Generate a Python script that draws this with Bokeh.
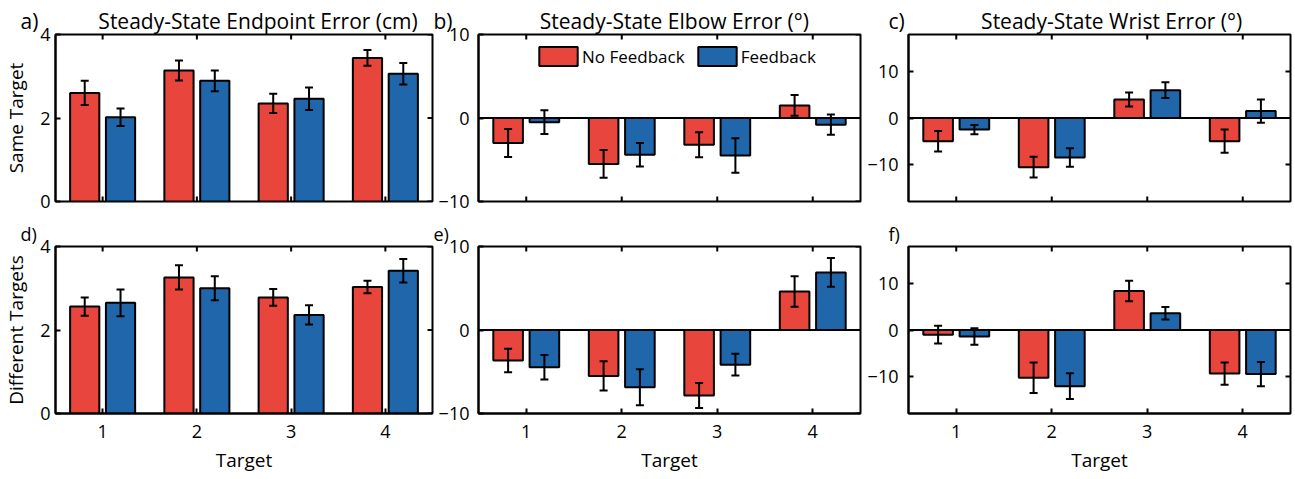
import math
from bokeh.plotting import figure
from bokeh.models import (Range1d, LinearAxis, FixedTicker, ColumnDataSource, Whisker,
                          TeeHead, Span, Title, Legend, LegendItem)
from bokeh.layouts import gridplot
from bokeh.embed import file_html
from bokeh.resources import INLINE

# ---------------- data ----------------
targets = [1, 2, 3, 4]
tick_labels = ["1", "2", "3", "4"]
series_names = ["No Feedback", "Feedback"]

same_endpoint_nofb = [2.60, 3.14, 2.35, 3.44]
same_endpoint_nofb_err = [0.29, 0.24, 0.23, 0.19]
same_endpoint_fb = [2.02, 2.89, 2.46, 3.06]
same_endpoint_fb_err = [0.21, 0.25, 0.27, 0.26]

same_elbow_nofb = [-3.0, -5.5, -3.2, 1.5]
same_elbow_nofb_err = [1.68, 1.66, 1.5, 1.24]
same_elbow_fb = [-0.5, -4.4, -4.5, -0.8]
same_elbow_fb_err = [1.42, 1.4, 2.06, 1.22]

same_wrist_nofb = [-5.0, -10.6, 4.0, -5.0]
same_wrist_nofb_err = [2.2, 2.25, 1.5, 2.5]
same_wrist_fb = [-2.5, -8.5, 6.0, 1.5]
same_wrist_fb_err = [1.0, 2.0, 1.7, 2.5]

diff_endpoint_nofb = [2.56, 3.26, 2.78, 3.03]
diff_endpoint_nofb_err = [0.22, 0.29, 0.20, 0.15]
diff_endpoint_fb = [2.65, 3.00, 2.36, 3.42]
diff_endpoint_fb_err = [0.32, 0.29, 0.23, 0.28]

diff_elbow_nofb = [-3.65, -5.5, -7.85, 4.6]
diff_elbow_nofb_err = [1.41, 1.76, 1.49, 1.83]
diff_elbow_fb = [-4.45, -6.85, -4.15, 6.9]
diff_elbow_fb_err = [1.47, 2.16, 1.31, 1.72]

diff_wrist_nofb = [-1.0, -10.3, 8.4, -9.4]
diff_wrist_nofb_err = [1.9, 3.3, 2.2, 2.4]
diff_wrist_fb = [-1.4, -12.1, 3.6, -9.5]
diff_wrist_fb_err = [1.8, 2.8, 1.36, 2.6]

titles = ["Steady-State Endpoint Error (cm)", "Steady-State Elbow Error (°)",
          "Steady-State Wrist Error (°)"]
letters = ["a)", "b)", "c)", "d)", "e)", "f)"]
row_labels = ["Same Target", "Different Targets"]
x_label = "Target"

# ---------------- style ----------------
FONT = "Open Sans"
RED = "#E8453C"
BLUE = "#1F66AA"
BAR_W = 0.31
OFFSET = 0.19
NBSP = "\u00a0"

COLS = [  # width, border left, border right, letter offset, tick standoff, title pad
    dict(w=434, bl=53, br=2, lx=-35, st=5, pad=11),
    dict(w=428, bl=44, br=2, lx=-45, st=9, pad=16),
    dict(w=432, bl=46, br=4, lx=-20, st=10, pad=14),
]
ROWS = [
    dict(h=218, bt=34, bb=17, fs="21px", so=0),
    dict(h=259, bt=28, bb=64, fs="18px", so=1),
]


def style_axis(ax, ticks, standoff):
    ax.ticker = FixedTicker(ticks=ticks)
    ax.major_tick_in = 5
    ax.major_tick_out = 0
    ax.major_tick_line_width = 2
    ax.major_tick_line_color = "black"
    ax.minor_tick_line_color = None
    ax.axis_line_width = 2
    ax.axis_line_color = "black"
    ax.major_label_text_font = FONT
    ax.major_label_text_color = "black"
    ax.major_label_text_font_size = "18px"
    ax.major_label_standoff = standoff
    ax.axis_label_text_font = FONT
    ax.axis_label_text_font_size = "19px"
    ax.axis_label_text_font_style = "normal"
    ax.axis_label_text_color = "black"
    return ax


def panel(col, row, nofb, nofb_err, fb, fb_err, yr, yticks, letter,
          title=None, ylabel=None, xlabels=False, legend=False, zero=False):
    c = COLS[col]
    r = ROWS[row]
    p = figure(width=c["w"], height=r["h"], x_range=Range1d(0.5, 4.5),
               y_range=Range1d(*yr), output_backend="svg", toolbar_location=None,
               x_axis_location=None, y_axis_location=None,
               min_border_left=c["bl"], min_border_right=c["br"],
               min_border_top=r["bt"], min_border_bottom=r["bb"])
    p.xgrid.grid_line_color = None
    p.ygrid.grid_line_color = None
    p.outline_line_color = "black"
    p.outline_line_width = 2
    p.background_fill_color = "white"
    p.border_fill_color = "white"

    left = style_axis(LinearAxis(), yticks, c["st"])
    if ylabel:
        left.axis_label = ylabel
        left.axis_label_standoff = 8
    p.add_layout(left, "left")
    if xlabels:
        bottom = style_axis(LinearAxis(), targets, 11)
        bottom.major_label_overrides = {t: l for t, l in zip(targets, tick_labels)}
        bottom.axis_label = x_label
        bottom.axis_label_standoff = 6
        p.add_layout(bottom, "below")

    # inward tick marks on the remaining box edges (clipped to the frame)
    x1 = 4.5
    y0, y1 = yr
    p.scatter(x=targets, y=[y1] * len(targets), marker="dash", angle=math.pi / 2,
              size=10, line_width=2, line_color="black")
    p.scatter(x=[x1] * len(yticks), y=yticks, marker="dash", size=10,
              line_width=2, line_color="black")
    if not xlabels:
        p.scatter(x=targets, y=[y0] * len(targets), marker="dash", angle=math.pi / 2,
                  size=10, line_width=2, line_color="black")

    renderers = []
    for vals, errs, sign, color in [(nofb, nofb_err, -1, RED), (fb, fb_err, 1, BLUE)]:
        src = ColumnDataSource(dict(
            x=[t + sign * OFFSET for t in targets],
            top=vals,
            upper=[v + e for v, e in zip(vals, errs)],
            lower=[v - e for v, e in zip(vals, errs)],
        ))
        rr = p.vbar(x="x", top="top", bottom=0, width=BAR_W, source=src,
                    fill_color=color, line_color="black", line_width=2)
        renderers.append(rr)
        p.add_layout(Whisker(base="x", upper="upper", lower="lower", source=src,
                             level="annotation",
                             line_color="black", line_width=2,
                             upper_head=TeeHead(size=8, line_width=2, line_color="black"),
                             lower_head=TeeHead(size=8, line_width=2, line_color="black")))
    if zero:
        p.add_layout(Span(location=0, dimension="width", line_color="black", line_width=2))

    text = letter if title is None else letter + NBSP * c["pad"] + title
    p.add_layout(Title(text=text, align="left", offset=c["lx"], standoff=r["so"],
                       text_font=FONT, text_font_size=r["fs"], text_font_style="normal",
                       text_color="black"), "above")

    if legend:
        lg = Legend(items=[LegendItem(label=series_names[0], renderers=[renderers[0]]),
                           LegendItem(label=series_names[1], renderers=[renderers[1]])],
                    location=(56, 133), orientation="horizontal",
                    glyph_width=48, glyph_height=24, label_height=24,
                    label_standoff=0, spacing=8, padding=0, margin=0,
                    border_line_color=None, background_fill_alpha=0,
                    label_text_font=FONT, label_text_font_size="17px",
                    label_text_color="black")
        p.add_layout(lg)
    return p


pa = panel(0, 0, same_endpoint_nofb, same_endpoint_nofb_err, same_endpoint_fb,
           same_endpoint_fb_err, (0, 4), [0, 2, 4], letters[0], title=titles[0],
           ylabel=row_labels[0])
pb = panel(1, 0, same_elbow_nofb, same_elbow_nofb_err, same_elbow_fb, same_elbow_fb_err,
           (-10, 10), [-10, 0, 10], letters[1], title=titles[1], legend=True, zero=True)
pc = panel(2, 0, same_wrist_nofb, same_wrist_nofb_err, same_wrist_fb, same_wrist_fb_err,
           (-18, 18), [-10, 0, 10], letters[2], title=titles[2], zero=True)
pd = panel(0, 1, diff_endpoint_nofb, diff_endpoint_nofb_err, diff_endpoint_fb,
           diff_endpoint_fb_err, (0, 4), [0, 2, 4], letters[3], ylabel=row_labels[1],
           xlabels=True)
pe = panel(1, 1, diff_elbow_nofb, diff_elbow_nofb_err, diff_elbow_fb, diff_elbow_fb_err,
           (-10, 10), [-10, 0, 10], letters[4], xlabels=True, zero=True)
pf = panel(2, 1, diff_wrist_nofb, diff_wrist_nofb_err, diff_wrist_fb, diff_wrist_fb_err,
           (-18, 18), [-10, 0, 10], letters[5], xlabels=True, zero=True)

grid = gridplot([[pa, pb, pc], [pd, pe, pf]], toolbar_location=None)

open("out.html", "w").write(file_html(grid, INLINE))
